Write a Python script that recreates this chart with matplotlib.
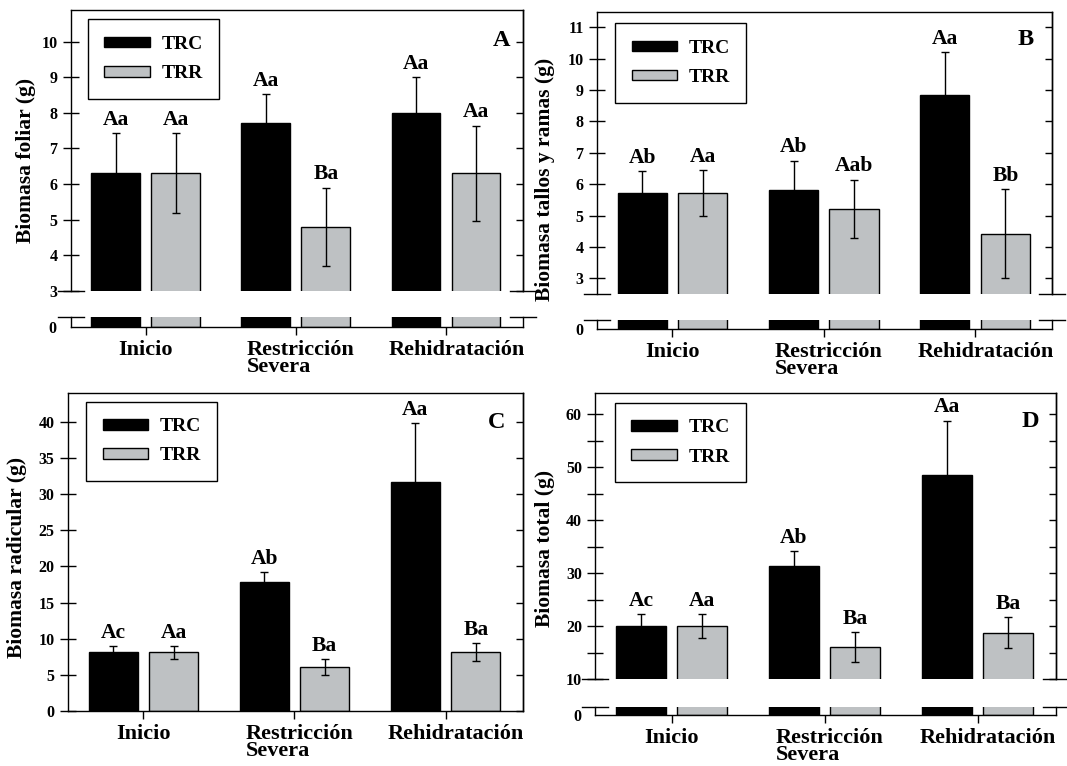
import matplotlib
matplotlib.use('Agg')
import matplotlib.pyplot as plt
import matplotlib.transforms as mtransforms
import numpy as np

plt.rcParams['font.family'] = 'Liberation Serif'
plt.rcParams['font.weight'] = 'bold'
plt.rcParams['axes.labelweight'] = 'bold'
plt.rcParams['axes.linewidth'] = 1.0

W, H = 1067, 766

grupos = ['Inicio', 'Restricción\nSevera', 'Rehidratación']
series = ['TRC', 'TRR']

# A - biomasa foliar
foliar_trc = [6.3, 7.7, 8.0]
foliar_trc_err = [1.12, 0.82, 1.0]
foliar_trr = [6.3, 4.8, 6.3]
foliar_trr_err = [1.12, 1.1, 1.34]
foliar_trc_let = ['Aa', 'Aa', 'Aa']
foliar_trr_let = ['Aa', 'Ba', 'Aa']

# B - biomasa tallos y ramas
tallos_trc = [5.72, 5.83, 8.83]
tallos_trc_err = [0.7, 0.92, 1.38]
tallos_trr = [5.72, 5.21, 4.42]
tallos_trr_err = [0.72, 0.93, 1.42]
tallos_trc_let = ['Ab', 'Ab', 'Aa']
tallos_trr_let = ['Aa', 'Aab', 'Bb']

# C - biomasa radicular
radic_trc = [8.1, 17.9, 31.7]
radic_trc_err = [0.9, 1.35, 8.1]
radic_trr = [8.1, 6.05, 8.1]
radic_trr_err = [0.88, 1.1, 1.25]
radic_trc_let = ['Ac', 'Ab', 'Aa']
radic_trr_let = ['Aa', 'Ba', 'Ba']

# D - biomasa total
total_trc = [20.0, 31.4, 48.6]
total_trc_err = [2.3, 2.8, 10.2]
total_trr = [20.0, 16.1, 18.8]
total_trr_err = [2.3, 2.85, 2.9]
total_trc_let = ['Ac', 'Ab', 'Aa']
total_trr_let = ['Aa', 'Ba', 'Ba']

NEGRO = 'black'
GRIS = '#bec1c3'
x = np.arange(len(grupos))
off = 0.2
ancho = 0.325

fig = plt.figure(figsize=(W / 100, H / 100), dpi=100)


def rect(l, t, r, b):
    return [l / W, 1 - b / H, (r - l) / W, (b - t) / H]


def marca(ax, y):
    # pequeñas lineas de corte del eje
    wpx = ax.get_position().width * W
    d = 13 / wpx
    for x0 in (0, 1):
        ax.plot([x0 - d, x0 + d], [y, y], transform=ax.transAxes,
                color='black', lw=1, clip_on=False)


def barras(ax, trc, trr):
    ax.bar(x - off, trc, ancho, color=NEGRO, edgecolor='black', lw=1, label=series[0])
    ax.bar(x + off, trr, ancho, color=GRIS, edgecolor='black', lw=1, label=series[1])
    ax.set_xlim(-0.5, 2.51)


def panel(up, low, ylim, low_top, yticks, ylabs, trc, trc_e, trr, trr_e,
          l_trc, l_trr, ylabel, ylab_px, letra, letra_xy, leg_xy):
    ax = fig.add_axes(rect(*up))
    barras(ax, trc, trr)
    ax.errorbar(x - off, trc, yerr=trc_e, fmt='none', ecolor='black', elinewidth=1, capsize=3)
    ax.errorbar(x + off, trr, yerr=trr_e, fmt='none', ecolor='black', elinewidth=1, capsize=3)
    ax.set_ylim(*ylim)
    ax.set_yticks(yticks)
    ax.set_yticklabels(ylabs)
    ax.tick_params(axis='y', direction='inout', length=11, width=1, pad=4, labelsize=11.5)
    sec = ax.secondary_yaxis('right')
    sec.set_yticks(yticks)
    sec.tick_params(direction='in', length=5, width=1, labelright=False)

    for xi, v, e, t in zip(x - off, trc, trc_e, l_trc):
        ax.annotate(t, (xi, v + e), xytext=(0, 6), textcoords='offset points',
                    ha='center', va='baseline', fontsize=15.5)
    for xi, v, e, t in zip(x + off, trr, trr_e, l_trr):
        ax.annotate(t, (xi, v + e), xytext=(0, 6), textcoords='offset points',
                    ha='center', va='baseline', fontsize=15.5)

    ax.text(letra_xy[0], letra_xy[1], letra, transform=ax.transAxes,
            fontsize=17.5, ha='center', va='center')

    leg = ax.legend(loc='upper left', bbox_to_anchor=leg_xy, borderaxespad=0,
                    fontsize=14, fancybox=False, edgecolor='black', framealpha=1,
                    handlelength=2.36, handleheight=0.47, handletextpad=0.57,
                    borderpad=0.85, labelspacing=0.63)
    leg.get_frame().set_linewidth(1)

    ax.set_ylabel(ylabel, fontsize=15.5, va='center')
    ax.yaxis.set_label_coords(ylab_px[0] / W, 1 - ylab_px[1] / H, transform=fig.transFigure)

    if low is not None:
        ax.spines['bottom'].set_visible(False)
        ax.tick_params(axis='x', bottom=False, labelbottom=False)
        marca(ax, 0)
        axb = fig.add_axes(rect(*low))
        barras(axb, trc, trr)
        axb.set_ylim(0, low_top)
        axb.set_yticks([0])
        axb.tick_params(axis='y', length=0, pad=10, labelsize=11.5)
        axb.spines['top'].set_visible(False)
        marca(axb, 1)
    else:
        axb = ax

    axb.set_xticks(x)
    axb.set_xticklabels(grupos)
    axb.tick_params(axis='x', direction='out', length=5.5, width=1, pad=4, labelsize=16)
    for lbl, dx in zip(axb.get_xticklabels(), [0, 3.5, 7.5]):
        lbl.set_multialignment('left')
        lbl.set_linespacing(0.8)
        lbl.set_transform(lbl.get_transform() +
                          mtransforms.ScaledTranslation(dx / 72, 0, fig.dpi_scale_trans))
    return ax


panel((70.6, 9.6, 522.5, 290.7), (70.6, 317, 522.5, 326.7), (3, 10.9), 0.28,
      list(range(3, 11)), [str(v) for v in range(3, 11)],
      foliar_trc, foliar_trc_err, foliar_trr, foliar_trr_err,
      foliar_trc_let, foliar_trr_let, 'Biomasa foliar (g)', (25.8, 160),
      'A', (0.954, 0.89), (0.038, 0.965))

panel((596.8, 11.7, 1052.3, 294), (596.8, 320, 1052.3, 329.3), (2.5, 11.5), 0.3,
      list(range(3, 12)), [str(v) for v in range(3, 12)],
      tallos_trc, tallos_trc_err, tallos_trr, tallos_trr_err,
      tallos_trc_let, tallos_trr_let, 'Biomasa tallos y ramas (g)', (545.4, 179),
      'B', (0.942, 0.903), (0.04, 0.959))

panel((67.8, 393, 522.7, 711), None, (0, 44), None,
      list(range(0, 41, 5)), [str(v) for v in range(0, 41, 5)],
      radic_trc, radic_trc_err, radic_trr, radic_trr_err,
      radic_trc_let, radic_trr_let, 'Biomasa radicular (g)', (17.2, 557),
      'C', (0.943, 0.907), (0.04, 0.973))

panel((595.1, 393, 1055.7, 679.3), (595.1, 706.7, 1055.7, 715), (10, 64), 1.6,
      list(range(10, 61, 5)), [str(v) if v % 10 == 0 else '' for v in range(10, 61, 5)],
      total_trc, total_trc_err, total_trr, total_trr_err,
      total_trc_let, total_trr_let, 'Biomasa total (g)', (545.4, 548),
      'D', (0.944, 0.899), (0.043, 0.966))

fig.savefig('out.png', dpi=100)
